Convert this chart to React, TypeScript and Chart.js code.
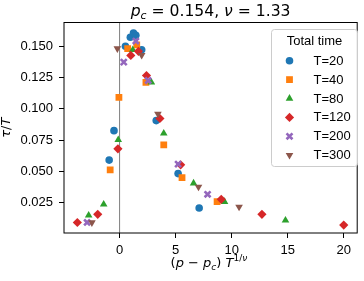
import React, { useEffect, useRef } from 'react';
import { Chart, registerables } from 'chart.js';
import { drawPoint } from 'chart.js/helpers';

Chart.register(...registerables);

// ---- data (x = (p - pc) T^{1/nu}, y = tau / T) ----
const seriesLabels = ['T=20', 'T=40', 'T=80', 'T=120', 'T=200', 'T=300'];

const T20: [number, number][] = [
  [-0.93, 0.059], [-0.5, 0.0825], [0.52, 0.1498], [0.96, 0.157], [1.24, 0.1604],
  [1.45, 0.1586], [1.97, 0.147], [3.27, 0.0905], [5.22, 0.0482], [7.1, 0.0208],
];
const T40: [number, number][] = [
  [-0.84, 0.0512], [-0.06, 0.109], [0.72, 0.148], [1.53, 0.151], [2.35, 0.121],
  [3.94, 0.0712], [5.57, 0.045], [8.7, 0.0258],
];
const T80: [number, number][] = [
  [-2.76, 0.0149], [-1.42, 0.0237], [-0.12, 0.0752], [1.18, 0.147], [2.84, 0.121],
  [3.94, 0.0803], [6.6, 0.0405], [9.36, 0.0258], [14.8, 0.0109],
];
const T120: [number, number][] = [
  [-3.77, 0.0092], [-1.95, 0.0157], [-0.15, 0.068], [1.0, 0.1425], [1.68, 0.1458],
  [2.4, 0.1265], [3.6, 0.0922], [5.45, 0.0552], [9.07, 0.0277], [12.7, 0.0157], [20.0, 0.0071],
];
const T200: [number, number][] = [
  [-2.9, 0.0092], [0.37, 0.1372], [1.45, 0.154], [2.55, 0.1225], [5.22, 0.0558], [7.85, 0.0317],
];
const T300: [number, number][] = [
  [-2.47, 0.0092], [-0.2, 0.148], [1.97, 0.1428], [3.42, 0.0958], [7.04, 0.0376], [10.66, 0.0216],
];
const allSeries = [T20, T40, T80, T120, T200, T300];

const xTicks = [0, 5, 10, 15, 20];
const yTicks = [0.025, 0.05, 0.075, 0.1, 0.125, 0.15];

// ---- styles ----
const colors = ['#1f77b4', '#ff7f0e', '#2ca02c', '#d62728', '#9467bd', '#8c564b'];
const pStyles = ['circle', 'rect', 'triangle', 'rectRot', 'crossRot', 'triangle'];
const pRot = [0, 0, 0, 0, 0, 180];
const pRad = [3.8, 4.8, 4.4, 4.6, 4.2, 4.4];
const pBorder = [0, 0, 0, 0, 2.6, 0];

const SANS = '"Liberation Sans", Arial, sans-serif';
const MATH = '"DejaVu Sans", sans-serif';

type Seg = { t: string; it?: boolean; sub?: boolean; sup?: boolean };

function drawRich(ctx: CanvasRenderingContext2D, segs: Seg[], cx: number, base: number, size: number) {
  const fontFor = (s: Seg) => `${s.it ? 'italic ' : ''}${s.sub || s.sup ? size * 0.7 : size}px ${MATH}`;
  let w = 0;
  for (const s of segs) {
    ctx.font = fontFor(s);
    w += ctx.measureText(s.t).width;
  }
  let x = cx - w / 2;
  ctx.textAlign = 'left';
  ctx.textBaseline = 'alphabetic';
  for (const s of segs) {
    ctx.font = fontFor(s);
    const dy = s.sub ? size * 0.22 : s.sup ? -size * 0.45 : 0;
    ctx.fillText(s.t, x, base + dy);
    x += ctx.measureText(s.t).width;
  }
}

const decor = {
  id: 'decor',
  beforeDatasetsDraw(chart: any) {
    const { ctx, chartArea, scales } = chart;
    const px = scales.x.getPixelForValue(0);
    ctx.save();
    ctx.strokeStyle = '#7f7f7f';
    ctx.lineWidth = 1;
    ctx.beginPath();
    ctx.moveTo(px, chartArea.top);
    ctx.lineTo(px, chartArea.bottom);
    ctx.stroke();
    ctx.restore();
  },
  afterDraw(chart: any) {
    const { ctx, chartArea } = chart;
    const { left, right, top, bottom } = chartArea;
    ctx.save();
    // frame
    ctx.strokeStyle = '#000';
    ctx.lineWidth = 1;
    ctx.strokeRect(left, top, right - left, bottom - top);

    // legend
    const lx = 271.5, ly = 29.5, lw = 86, lh = 137, r = 3;
    ctx.beginPath();
    ctx.moveTo(lx + r, ly);
    ctx.arcTo(lx + lw, ly, lx + lw, ly + lh, r);
    ctx.arcTo(lx + lw, ly + lh, lx, ly + lh, r);
    ctx.arcTo(lx, ly + lh, lx, ly, r);
    ctx.arcTo(lx, ly, lx + lw, ly, r);
    ctx.closePath();
    ctx.fillStyle = 'rgba(255,255,255,0.8)';
    ctx.fill();
    ctx.strokeStyle = '#cccccc';
    ctx.lineWidth = 1;
    ctx.stroke();

    ctx.fillStyle = '#000';
    ctx.font = `13px ${SANS}`;
    ctx.textAlign = 'center';
    ctx.textBaseline = 'middle';
    ctx.fillText('Total time', 314.5, 41);
    for (let i = 0; i < seriesLabels.length; i++) {
      const yy = 60.7 + i * 18.9;
      ctx.fillStyle = colors[i];
      ctx.strokeStyle = colors[i];
      ctx.lineWidth = pBorder[i] || 1;
      drawPoint(ctx, { pointStyle: pStyles[i], radius: pRad[i], rotation: pRot[i], borderWidth: pBorder[i] } as any, 289.5, yy);
      ctx.fillStyle = '#000';
      ctx.font = `13px ${SANS}`;
      ctx.textAlign = 'left';
      ctx.textBaseline = 'middle';
      ctx.fillText(seriesLabels[i], 313.5, yy + 0.5);
    }

    // title
    ctx.fillStyle = '#000';
    drawRich(ctx, [
      { t: 'p', it: true }, { t: 'c', it: true, sub: true },
      { t: ' = 0.154, ' }, { t: 'ν', it: true }, { t: ' = 1.33' },
    ], (left + right) / 2, 16, 15.6);

    // x label
    drawRich(ctx, [
      { t: '(' }, { t: 'p', it: true }, { t: ' − ' }, { t: 'p', it: true }, { t: 'c', it: true, sub: true },
      { t: ') ' }, { t: 'T', it: true }, { t: '1/', sup: true }, { t: 'ν', it: true, sup: true },
    ], 209, 267, 13);

    // y label
    ctx.translate(9.5, (top + bottom) / 2);
    ctx.rotate(-Math.PI / 2);
    drawRich(ctx, [{ t: 'τ', it: true }, { t: '/' }, { t: 'T', it: true }], 0, 0, 13);
    ctx.restore();
  },
};

export default function App() {
  const ref = useRef<HTMLCanvasElement>(null);
  useEffect(() => {
    if (!ref.current) return;
    const datasets = allSeries.map((s, i) => ({
      label: seriesLabels[i],
      data: s.map(([x, y]) => ({ x, y })),
      pointStyle: pStyles[i] as any,
      pointRadius: pRad[i],
      pointRotation: pRot[i],
      pointBorderWidth: pBorder[i],
      backgroundColor: colors[i],
      borderColor: colors[i],
      pointHoverRadius: pRad[i],
      showLine: false,
      order: allSeries.length - i,
    }));
    const tickGrid = {
      display: true,
      drawOnChartArea: false,
      drawTicks: true,
      tickLength: 5,
      tickColor: '#000',
      tickWidth: 1,
    };
    const chart = new Chart(ref.current, {
      type: 'scatter',
      data: { datasets },
      plugins: [decor],
      options: {
        animation: false,
        responsive: false,
        devicePixelRatio: 1,
        events: [],
        layout: { padding: { top: 22.5, right: 2, left: 0, bottom: 0 } },
        plugins: { legend: { display: false }, tooltip: { enabled: false }, title: { display: false } },
        scales: {
          x: {
            type: 'linear',
            min: -4.96,
            max: 21.2,
            grid: tickGrid as any,
            border: { display: false },
            afterBuildTicks: (s: any) => { s.ticks = xTicks.map((v) => ({ value: v })); },
            afterFit: (s: any) => { s.height = 48; },
            ticks: {
              autoSkip: false,
              maxRotation: 0,
              padding: 5,
              color: '#000',
              font: { family: SANS, size: 13 },
              callback: (v: any) => String(v),
            },
          },
          y: {
            type: 'linear',
            min: 0.0008,
            max: 0.1688,
            grid: tickGrid as any,
            border: { display: false },
            afterBuildTicks: (s: any) => { s.ticks = yTicks.map((v) => ({ value: v })); },
            afterFit: (s: any) => { s.width = 64; },
            ticks: {
              autoSkip: false,
              padding: 6,
              color: '#000',
              font: { family: SANS, size: 13 },
              callback: (v: any) => Number(v).toFixed(3),
            },
          },
        },
      },
    });
    return () => chart.destroy();
  }, []);
  return (
    <div style={{ position: 'absolute', left: 0, top: 0, width: 364, height: 281, background: '#fff' }}>
      <canvas ref={ref} width={364} height={281} />
    </div>
  );
}
